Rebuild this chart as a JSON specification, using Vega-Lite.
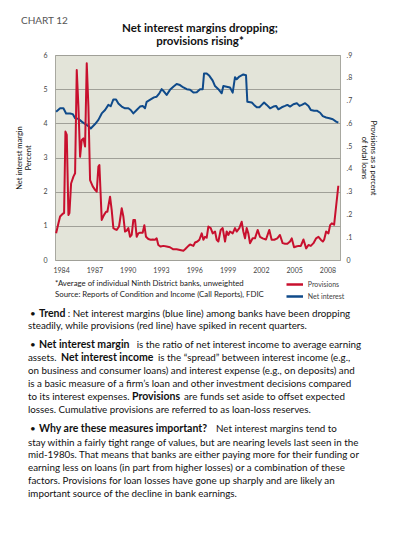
{
  "$schema": "https://vega.github.io/schema/vega-lite/v6.json",
  "width": 285,
  "height": 205,
  "autosize": {"type": "none"},
  "padding": {"left": 55, "top": 55, "right": 53, "bottom": 276},
  "background": "white",
  "config": {
    "font": "Lato",
    "view": {"fill": "#e3e4d9", "stroke": "#a8a8a0", "strokeWidth": 1}
  },
  "datasets": {
    "nim": [
      {"t": 1984.05, "v": 4.34}, {"t": 1984.41, "v": 4.44}, {"t": 1984.71, "v": 4.44}, {"t": 1984.95, "v": 4.29},
      {"t": 1985.31, "v": 4.29}, {"t": 1985.55, "v": 4.27}, {"t": 1985.76, "v": 4.15}, {"t": 1986.06, "v": 4.13},
      {"t": 1986.36, "v": 4.05}, {"t": 1986.66, "v": 3.98}, {"t": 1986.96, "v": 3.92}, {"t": 1987.17, "v": 3.85},
      {"t": 1987.56, "v": 3.98}, {"t": 1987.86, "v": 4.1}, {"t": 1988.16, "v": 4.29}, {"t": 1988.46, "v": 4.39},
      {"t": 1988.76, "v": 4.54}, {"t": 1988.97, "v": 4.5}, {"t": 1989.21, "v": 4.7}, {"t": 1989.45, "v": 4.7},
      {"t": 1989.66, "v": 4.58}, {"t": 1989.96, "v": 4.49}, {"t": 1990.26, "v": 4.44}, {"t": 1990.56, "v": 4.44},
      {"t": 1990.77, "v": 4.39}, {"t": 1991.01, "v": 4.29}, {"t": 1991.31, "v": 4.39}, {"t": 1991.61, "v": 4.49},
      {"t": 1991.85, "v": 4.51}, {"t": 1992.06, "v": 4.44}, {"t": 1992.21, "v": 4.63}, {"t": 1992.57, "v": 4.7},
      {"t": 1992.87, "v": 4.76}, {"t": 1993.11, "v": 4.78}, {"t": 1993.35, "v": 4.88}, {"t": 1993.56, "v": 5.0},
      {"t": 1993.77, "v": 4.93}, {"t": 1994.01, "v": 4.83}, {"t": 1994.31, "v": 4.98}, {"t": 1994.61, "v": 5.07},
      {"t": 1994.91, "v": 5.15}, {"t": 1995.21, "v": 5.12}, {"t": 1995.52, "v": 5.05}, {"t": 1995.82, "v": 5.0},
      {"t": 1996.12, "v": 4.98}, {"t": 1996.42, "v": 4.9}, {"t": 1996.72, "v": 4.91}, {"t": 1997.02, "v": 5.0},
      {"t": 1997.26, "v": 5.0}, {"t": 1997.38, "v": 5.46}, {"t": 1997.62, "v": 5.46}, {"t": 1997.86, "v": 5.39},
      {"t": 1998.16, "v": 5.25}, {"t": 1998.37, "v": 5.09}, {"t": 1998.67, "v": 5.0}, {"t": 1998.97, "v": 4.88},
      {"t": 1999.12, "v": 5.09}, {"t": 1999.42, "v": 5.07}, {"t": 1999.72, "v": 5.05}, {"t": 1999.96, "v": 4.9},
      {"t": 2000.17, "v": 5.35}, {"t": 2000.32, "v": 5.29}, {"t": 2000.56, "v": 5.37}, {"t": 2000.92, "v": 5.43},
      {"t": 2001.16, "v": 5.41}, {"t": 2001.28, "v": 4.63}, {"t": 2001.68, "v": 4.61}, {"t": 2001.89, "v": 4.54},
      {"t": 2002.13, "v": 4.47}, {"t": 2002.37, "v": 4.47}, {"t": 2002.58, "v": 4.54}, {"t": 2002.79, "v": 4.61},
      {"t": 2003.03, "v": 4.54}, {"t": 2003.33, "v": 4.44}, {"t": 2003.63, "v": 4.49}, {"t": 2003.87, "v": 4.51},
      {"t": 2004.08, "v": 4.41}, {"t": 2004.38, "v": 4.47}, {"t": 2004.68, "v": 4.51}, {"t": 2004.89, "v": 4.54},
      {"t": 2005.13, "v": 4.49}, {"t": 2005.43, "v": 4.56}, {"t": 2005.74, "v": 4.59}, {"t": 2005.98, "v": 4.51},
      {"t": 2006.19, "v": 4.54}, {"t": 2006.49, "v": 4.59}, {"t": 2006.79, "v": 4.51}, {"t": 2007.0, "v": 4.39},
      {"t": 2007.3, "v": 4.37}, {"t": 2007.54, "v": 4.37}, {"t": 2007.84, "v": 4.31}, {"t": 2008.08, "v": 4.21},
      {"t": 2008.38, "v": 4.17}, {"t": 2008.68, "v": 4.15}, {"t": 2008.98, "v": 4.12}, {"t": 2009.28, "v": 4.05},
      {"t": 2009.48, "v": 4.02}
    ],
    "prov": [
      {"t": 1984.05, "v": 0.117}, {"t": 1984.26, "v": 0.161}, {"t": 1984.41, "v": 0.191}, {"t": 1984.65, "v": 0.203},
      {"t": 1984.77, "v": 0.206}, {"t": 1984.89, "v": 0.564}, {"t": 1985.01, "v": 0.549}, {"t": 1985.16, "v": 0.198},
      {"t": 1985.25, "v": 0.206}, {"t": 1985.4, "v": 0.336}, {"t": 1985.61, "v": 0.366}, {"t": 1985.76, "v": 0.381},
      {"t": 1985.91, "v": 0.834}, {"t": 1986.06, "v": 0.674}, {"t": 1986.21, "v": 0.453}, {"t": 1986.36, "v": 0.527},
      {"t": 1986.51, "v": 0.534}, {"t": 1986.66, "v": 0.498}, {"t": 1986.81, "v": 0.864}, {"t": 1986.96, "v": 0.674},
      {"t": 1987.11, "v": 0.351}, {"t": 1987.35, "v": 0.323}, {"t": 1987.56, "v": 0.308}, {"t": 1987.71, "v": 0.3},
      {"t": 1987.86, "v": 0.41}, {"t": 1987.95, "v": 0.417}, {"t": 1988.16, "v": 0.176}, {"t": 1988.37, "v": 0.198},
      {"t": 1988.55, "v": 0.212}, {"t": 1988.67, "v": 0.212}, {"t": 1988.91, "v": 0.278}, {"t": 1989.06, "v": 0.219},
      {"t": 1989.21, "v": 0.14}, {"t": 1989.36, "v": 0.135}, {"t": 1989.51, "v": 0.132}, {"t": 1989.72, "v": 0.147},
      {"t": 1989.96, "v": 0.227}, {"t": 1990.11, "v": 0.191}, {"t": 1990.26, "v": 0.125}, {"t": 1990.41, "v": 0.129},
      {"t": 1990.56, "v": 0.14}, {"t": 1990.71, "v": 0.102}, {"t": 1990.86, "v": 0.11}, {"t": 1991.01, "v": 0.176},
      {"t": 1991.16, "v": 0.176}, {"t": 1991.31, "v": 0.102}, {"t": 1991.46, "v": 0.117}, {"t": 1991.61, "v": 0.12},
      {"t": 1991.85, "v": 0.12}, {"t": 1992.0, "v": 0.153}, {"t": 1992.15, "v": 0.102}, {"t": 1992.36, "v": 0.092},
      {"t": 1992.57, "v": 0.089}, {"t": 1992.75, "v": 0.09}, {"t": 1992.96, "v": 0.089}, {"t": 1993.11, "v": 0.095},
      {"t": 1993.26, "v": 0.066}, {"t": 1993.47, "v": 0.059}, {"t": 1993.71, "v": 0.062}, {"t": 1994.01, "v": 0.059},
      {"t": 1994.31, "v": 0.056}, {"t": 1994.61, "v": 0.047}, {"t": 1994.91, "v": 0.047}, {"t": 1995.21, "v": 0.044},
      {"t": 1995.52, "v": 0.041}, {"t": 1995.67, "v": 0.047}, {"t": 1995.97, "v": 0.062}, {"t": 1996.12, "v": 0.068},
      {"t": 1996.42, "v": 0.062}, {"t": 1996.57, "v": 0.077}, {"t": 1996.78, "v": 0.081}, {"t": 1996.96, "v": 0.089},
      {"t": 1997.17, "v": 0.117}, {"t": 1997.32, "v": 0.089}, {"t": 1997.47, "v": 0.102}, {"t": 1997.62, "v": 0.098},
      {"t": 1997.77, "v": 0.147}, {"t": 1997.98, "v": 0.14}, {"t": 1998.16, "v": 0.117}, {"t": 1998.37, "v": 0.125},
      {"t": 1998.52, "v": 0.089}, {"t": 1998.67, "v": 0.081}, {"t": 1998.88, "v": 0.132}, {"t": 1999.06, "v": 0.14},
      {"t": 1999.27, "v": 0.081}, {"t": 1999.42, "v": 0.125}, {"t": 1999.57, "v": 0.11}, {"t": 1999.72, "v": 0.125},
      {"t": 1999.96, "v": 0.117}, {"t": 2000.17, "v": 0.14}, {"t": 2000.32, "v": 0.125}, {"t": 2000.56, "v": 0.14},
      {"t": 2000.77, "v": 0.168}, {"t": 2000.92, "v": 0.125}, {"t": 2001.07, "v": 0.095}, {"t": 2001.22, "v": 0.14},
      {"t": 2001.37, "v": 0.117}, {"t": 2001.52, "v": 0.074}, {"t": 2001.76, "v": 0.095}, {"t": 2001.97, "v": 0.095},
      {"t": 2002.21, "v": 0.132}, {"t": 2002.42, "v": 0.102}, {"t": 2002.66, "v": 0.095}, {"t": 2002.96, "v": 0.09},
      {"t": 2003.26, "v": 0.132}, {"t": 2003.47, "v": 0.089}, {"t": 2003.71, "v": 0.089}, {"t": 2003.98, "v": 0.095},
      {"t": 2004.22, "v": 0.11}, {"t": 2004.46, "v": 0.074}, {"t": 2004.68, "v": 0.071}, {"t": 2004.89, "v": 0.071},
      {"t": 2005.13, "v": 0.081}, {"t": 2005.28, "v": 0.095}, {"t": 2005.49, "v": 0.056}, {"t": 2005.68, "v": 0.059},
      {"t": 2005.89, "v": 0.062}, {"t": 2006.1, "v": 0.062}, {"t": 2006.34, "v": 0.09}, {"t": 2006.58, "v": 0.051},
      {"t": 2006.79, "v": 0.066}, {"t": 2007.0, "v": 0.062}, {"t": 2007.24, "v": 0.074}, {"t": 2007.48, "v": 0.095},
      {"t": 2007.69, "v": 0.102}, {"t": 2007.9, "v": 0.089}, {"t": 2008.08, "v": 0.081}, {"t": 2008.2, "v": 0.089},
      {"t": 2008.38, "v": 0.125}, {"t": 2008.59, "v": 0.117}, {"t": 2008.74, "v": 0.153}, {"t": 2008.89, "v": 0.161},
      {"t": 2009.1, "v": 0.155}, {"t": 2009.48, "v": 0.326}
    ]
  },
  "resolve": {"scale": {"y": "independent"}},
  "layer": [
    {
      "data": {"name": "nim"},
      "mark": {"type": "line", "strokeWidth": 2, "strokeJoin": "round"},
      "encoding": {
        "x": {
          "field": "t", "type": "quantitative",
          "scale": {"domain": [1983.95, 2009.63], "nice": false, "zero": false},
          "axis": {"values": [1984.5, 1987.5, 1990.5, 1993.5, 1996.5, 1999.5, 2002.5, 2005.5, 2008.5],
                   "labelExpr": "floor(datum.value)", "title": null, "ticks": false, "domain": false, "grid": false,
                   "labelFontSize": 7, "labelColor": "#444", "labelPadding": 6}
        },
        "y": {
          "field": "v", "type": "quantitative",
          "scale": {"domain": [0, 6], "nice": false, "zero": true},
          "axis": {"values": [0, 1, 2, 3, 4, 5, 6], "title": ["Net interest margin", "Percent"],
                   "grid": true, "gridColor": "#a0a098", "gridWidth": 1, "ticks": false, "domain": false,
                   "labelFontSize": 7, "labelColor": "#444", "labelPadding": 8,
                   "titleFontSize": 7.5, "titleFontWeight": "normal", "titleColor": "#111", "titlePadding": 10, "titleLineHeight": 9}
        },
        "color": {
          "datum": "Net interest", "type": "nominal",
          "scale": {"domain": ["Provisions", "Net interest"], "range": ["#c8102e", "#0f4a8a"]},
          "legend": {"orient": "none", "legendX": 232.75, "legendY": 222.5, "title": null, "symbolType": "M-1.5,0H1.5",
                     "symbolSize": 121, "symbolStrokeWidth": 2.5, "labelFontSize": 7, "labelColor": "#444",
                     "rowPadding": 0, "labelOffset": 6, "padding": 0}
        }
      }
    },
    {
      "data": {"name": "prov"},
      "mark": {"type": "line", "strokeWidth": 2, "strokeJoin": "round"},
      "encoding": {
        "x": {
          "field": "t", "type": "quantitative",
          "scale": {"domain": [1983.95, 2009.63], "nice": false, "zero": false},
          "axis": {"values": [1984.5, 1987.5, 1990.5, 1993.5, 1996.5, 1999.5, 2002.5, 2005.5, 2008.5],
                   "labelExpr": "floor(datum.value)", "title": null, "ticks": false, "domain": false, "grid": false,
                   "labelFontSize": 7, "labelColor": "#444", "labelPadding": 6}
        },
        "y": {
          "field": "v", "type": "quantitative",
          "scale": {"domain": [0, 0.9], "nice": false, "zero": true},
          "axis": {"orient": "right", "values": [0, 0.1, 0.2, 0.3, 0.4, 0.5, 0.6, 0.7, 0.8, 0.9],
                   "labelExpr": "datum.value == 0 ? '0' : replace(format(datum.value, '.1f'), '0.', '.')",
                   "title": ["Provisions as a percent", "of total loans"],
                   "grid": false, "ticks": false, "domain": false,
                   "labelFontSize": 7, "labelColor": "#444", "labelPadding": 6,
                   "titleFontSize": 7.5, "titleFontWeight": "normal", "titleColor": "#111", "titlePadding": 8, "titleLineHeight": 9}
        },
        "color": {"datum": "Provisions", "type": "nominal"}
      }
    },
    {
      "data": {"values": [{}]},
      "mark": {"type": "text", "align": "left", "baseline": "alphabetic", "fontSize": 10, "color": "#555"},
      "encoding": {"x": {"value": -34}, "y": {"value": -31}, "text": {"value": "CHART 12"}}
    },
    {
      "data": {"values": [{}]},
      "mark": {"type": "text", "align": "center", "baseline": "alphabetic", "fontSize": 11.5, "fontWeight": "bold", "color": "#111", "lineHeight": 13},
      "encoding": {"x": {"value": 145}, "y": {"value": -23}, "text": {"value": ["Net interest margins dropping;", "provisions rising*"]}}
    },
    {
      "data": {"values": [{}]},
      "mark": {"type": "text", "align": "left", "baseline": "alphabetic", "fontSize": 7.8, "color": "#222", "lineHeight": 11},
      "encoding": {"x": {"value": 0}, "y": {"value": 231}, "text": {"value": ["*Average of individual Ninth District banks, unweighted", "Source: Reports of Condition and Income (Call Reports), FDIC"]}}
    },
    {
      "data": {"values": [{}]},
      "mark": {"type": "text", "align": "left", "baseline": "alphabetic", "fontSize": 9.8, "color": "#111"},
      "encoding": {"x": {"value": -25}, "y": {"value": 261.5}, "text": {"value": "•"}}
    },
    {
      "data": {"values": [{}]},
      "mark": {"type": "text", "align": "left", "baseline": "alphabetic", "fontSize": 9.8, "color": "#111"},
      "encoding": {"x": {"value": -25}, "y": {"value": 293}, "text": {"value": "•"}}
    },
    {
      "data": {"values": [{}]},
      "mark": {"type": "text", "align": "left", "baseline": "alphabetic", "fontSize": 9.8, "color": "#111"},
      "encoding": {"x": {"value": -25}, "y": {"value": 377}, "text": {"value": "•"}}
    },
    {
      "data": {"values": [{}]},
      "mark": {"type": "text", "align": "left", "baseline": "alphabetic", "fontSize": 10.5, "fontWeight": "bold", "color": "#111"},
      "encoding": {"x": {"value": -16}, "y": {"value": 261.5}, "text": {"value": "Trend"}}
    },
    {
      "data": {"values": [{}]},
      "mark": {"type": "text", "align": "left", "baseline": "alphabetic", "fontSize": 9.8, "color": "#111"},
      "encoding": {"x": {"value": 12.7}, "y": {"value": 261.5}, "text": {"value": ": Net interest margins (blue line) among banks have been dropping"}}
    },
    {
      "data": {"values": [{}]},
      "mark": {"type": "text", "align": "left", "baseline": "alphabetic", "fontSize": 9.8, "color": "#111"},
      "encoding": {"x": {"value": -27}, "y": {"value": 274}, "text": {"value": "steadily, while provisions (red line) have spiked in recent quarters."}}
    },
    {
      "data": {"values": [{}]},
      "mark": {"type": "text", "align": "left", "baseline": "alphabetic", "fontSize": 10.5, "fontWeight": "bold", "color": "#111"},
      "encoding": {"x": {"value": -16}, "y": {"value": 293}, "text": {"value": "Net interest margin"}}
    },
    {
      "data": {"values": [{}]},
      "mark": {"type": "text", "align": "left", "baseline": "alphabetic", "fontSize": 9.8, "color": "#111"},
      "encoding": {"x": {"value": 81.7}, "y": {"value": 293}, "text": {"value": "is the ratio of net interest income to average earning"}}
    },
    {
      "data": {"values": [{}]},
      "mark": {"type": "text", "align": "left", "baseline": "alphabetic", "fontSize": 9.8, "color": "#111"},
      "encoding": {"x": {"value": -27}, "y": {"value": 306}, "text": {"value": "assets."}}
    },
    {
      "data": {"values": [{}]},
      "mark": {"type": "text", "align": "left", "baseline": "alphabetic", "fontSize": 10.5, "fontWeight": "bold", "color": "#111"},
      "encoding": {"x": {"value": 6}, "y": {"value": 306}, "text": {"value": "Net interest income"}}
    },
    {
      "data": {"values": [{}]},
      "mark": {"type": "text", "align": "left", "baseline": "alphabetic", "fontSize": 9.8, "color": "#111"},
      "encoding": {"x": {"value": 103}, "y": {"value": 306}, "text": {"value": "is the “spread” between interest income (e.g.,"}}
    },
    {
      "data": {"values": [{}]},
      "mark": {"type": "text", "align": "left", "baseline": "alphabetic", "fontSize": 9.8, "color": "#111", "lineHeight": 13},
      "encoding": {"x": {"value": -27}, "y": {"value": 319}, "text": {"value": ["on business and consumer loans) and interest expense (e.g., on deposits) and", "is a basic measure of a firm’s loan and other investment decisions compared"]}}
    },
    {
      "data": {"values": [{}]},
      "mark": {"type": "text", "align": "left", "baseline": "alphabetic", "fontSize": 9.8, "color": "#111"},
      "encoding": {"x": {"value": -27}, "y": {"value": 345}, "text": {"value": "to its interest expenses."}}
    },
    {
      "data": {"values": [{}]},
      "mark": {"type": "text", "align": "left", "baseline": "alphabetic", "fontSize": 10.5, "fontWeight": "bold", "color": "#111"},
      "encoding": {"x": {"value": 77}, "y": {"value": 345}, "text": {"value": "Provisions"}}
    },
    {
      "data": {"values": [{}]},
      "mark": {"type": "text", "align": "left", "baseline": "alphabetic", "fontSize": 9.8, "color": "#111"},
      "encoding": {"x": {"value": 129}, "y": {"value": 345}, "text": {"value": "are funds set aside to offset expected"}}
    },
    {
      "data": {"values": [{}]},
      "mark": {"type": "text", "align": "left", "baseline": "alphabetic", "fontSize": 9.8, "color": "#111"},
      "encoding": {"x": {"value": -27}, "y": {"value": 358}, "text": {"value": "losses. Cumulative provisions are referred to as loan-loss reserves."}}
    },
    {
      "data": {"values": [{}]},
      "mark": {"type": "text", "align": "left", "baseline": "alphabetic", "fontSize": 10.5, "fontWeight": "bold", "color": "#111"},
      "encoding": {"x": {"value": -16}, "y": {"value": 377}, "text": {"value": "Why are these measures important?"}}
    },
    {
      "data": {"values": [{}]},
      "mark": {"type": "text", "align": "left", "baseline": "alphabetic", "fontSize": 9.8, "color": "#111"},
      "encoding": {"x": {"value": 161}, "y": {"value": 377}, "text": {"value": "Net interest margins tend to"}}
    },
    {
      "data": {"values": [{}]},
      "mark": {"type": "text", "align": "left", "baseline": "alphabetic", "fontSize": 9.8, "color": "#111", "lineHeight": 12.9},
      "encoding": {"x": {"value": -27}, "y": {"value": 390.5}, "text": {"value": ["stay within a fairly tight range of values, but are nearing levels last seen in the", "mid-1980s. That means that banks are either paying more for their funding or", "earning less on loans (in part from higher losses) or a combination of these", "factors. Provisions for loan losses have gone up sharply and are likely an", "important source of the decline in bank earnings."]}}
    }
  ]
}
